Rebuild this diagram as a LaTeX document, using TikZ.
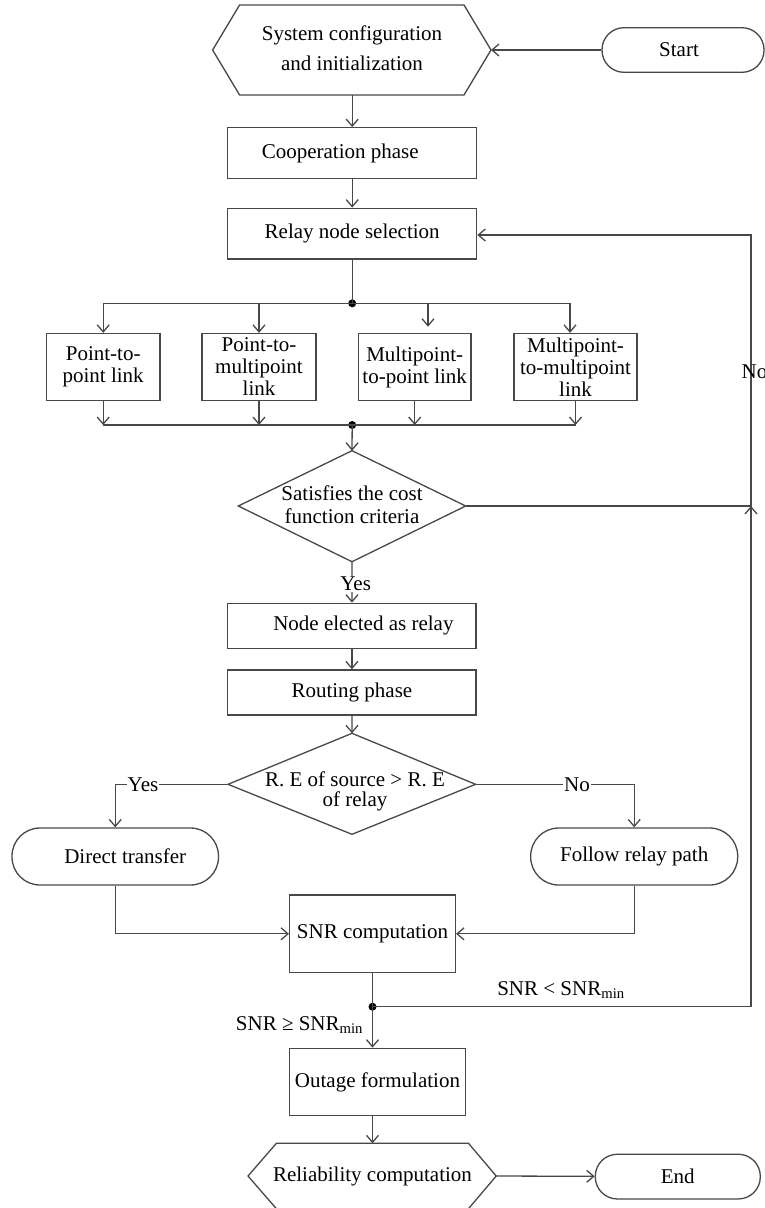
\documentclass[tikz,border=0pt]{standalone}
\usepackage{fontspec}
\setmainfont{Liberation Serif}
\usetikzlibrary{arrows.meta}
\definecolor{lc}{RGB}{72,72,72}
\begin{document}
\begin{tikzpicture}[x=1pt,y=-1pt,line width=1.3pt,
  every node/.style={font=\fontsize{21}{22}\selectfont,text=black},
  box/.style={draw=lc,rectangle,inner sep=0pt,align=center},
  pill/.style={draw=lc,rounded corners=22pt,inner sep=0pt,align=center},
  conn/.style={draw=lc,-{Straight Barb[length=7pt,width=12pt]}},
  plain/.style={draw=lc},
  dot/.style={circle,fill=black,inner sep=0pt,minimum size=8pt},
  lbl/.style={fill=white,inner sep=1pt}]
\useasboundingbox (0,0) rectangle (765,1208);

% ---- top hexagon and start
\node[align=center,font=\fontsize{21}{30}\selectfont] (sys) at (352,48) {System configuration\\and initialization};
\path[plain] (212.6,50) coordinate (sysL) -- (239.6,5) -- (464,5) -- (491,50) coordinate (sysR) -- (464,95) -- (239.6,95) -- cycle;
\coordinate (sysB) at (352.2,95);
\node[pill,minimum width=162pt,minimum height=44.6pt] (start) at (683,50) {\hspace*{-8pt}Start};

% ---- boxes
\node[box,minimum width=249pt,minimum height=50.6pt] (coop) at (352.2,153) {Cooperation phase\hspace*{24pt}};
\node[box,minimum width=249pt,minimum height=50.7pt] (relay) at (352.2,233.6) {Relay node selection};

\node[box,minimum width=113.7pt,minimum height=67pt] (l1) at (103.2,367) {Point-to-\\point link};
\node[box,minimum width=114pt,minimum height=67pt] (l2) at (259,367) {Point-to-\\multipoint\\link};
\node[box,minimum width=112.5pt,minimum height=67pt] (l3) at (414.7,367) {Multipoint-\\to-point link};
\node[box,minimum width=123pt,minimum height=67pt] (l4) at (575.5,367) {Multipoint-\\to-multipoint\\link};

% ---- diamond 1
\node[align=center,font=\fontsize{21}{23}\selectfont] (d1) at (352,505) {Satisfies the cost\\function criteria};
\path[plain] (352,450.7) coordinate (d1T) -- (465.7,506) coordinate (d1R) -- (352,561.7) coordinate (d1B) -- (238.3,506) coordinate (d1L) -- cycle;

\node[box,minimum width=248.3pt,minimum height=45pt] (elect) at (351.9,625.8) {\hspace*{23pt}Node elected as relay};
\node[box,minimum width=248.3pt,minimum height=45pt] (routing) at (351.9,692.5) {Routing phase};

% ---- diamond 2
\node[align=center,font=\fontsize{21}{20}\selectfont] (d2) at (355,791) {R.~E of source > R.~E\\of relay};
\path[plain] (352,733.3) coordinate (d2T) -- (475.6,784.3) coordinate (d2R) -- (352,834.3) coordinate (d2B) -- (228,784.3) coordinate (d2L) -- cycle;

\node[pill,rounded corners=28pt,minimum width=206.5pt,minimum height=57pt] (direct) at (115.25,856.5) {\hspace*{20pt}Direct transfer};
\node[pill,rounded corners=28pt,minimum width=207pt,minimum height=57pt] (follow) at (634.2,856.5) {Follow relay path};

\node[box,minimum width=165.8pt,minimum height=77.7pt] (snr) at (372.5,933.8) {SNR computation};
\node[box,minimum width=176.2pt,minimum height=67.4pt] (outage) at (377.5,1082) {Outage formulation};

% ---- bottom hexagon and end
\node (rel) at (372.5,1176) {Reliability computation};
\path[plain] (248,1176) coordinate (h2L) -- (276.4,1143.3) -- (468.5,1143.3) -- (496.2,1176) coordinate (h2R) -- (468.5,1208.7) -- (276.4,1208.7) -- cycle;
\coordinate (h2T) at (372.5,1143.3);
\node[pill,minimum width=165pt,minimum height=44.7pt] (end) at (677.8,1176.6) {End};

% ---- connectors top
\draw[conn] (start) -- (sysR);
\draw[conn] (sysB) -- (coop);
\draw[conn] (coop) -- (relay);
\node[dot] (j1) at (352.2,303.3) {};
\draw[plain] (relay) -- (j1.center);
\coordinate (h1L) at (103.2,303.3);
\coordinate (h1R) at (570,303.3);
\coordinate (a3) at (428,303.3);
\draw[plain] (h1L) -- (h1R);
\draw[conn] (h1L) -- (l1);
\draw[conn] (l2.north |- h1L) -- (l2);
\draw[conn] (a3) -- (428,326.7);
\draw[conn] (h1R) -- (h1R |- l4.north);

% ---- join below link boxes
\node[dot] (j2) at (352.2,425) {};
\draw[plain] (l1.south |- j2) -- (l4.south |- j2);
\draw[conn] (l1) -- (l1.south |- j2);
\draw[conn] (l2) -- (l2.south |- j2);
\draw[conn] (l3) -- (l3.south |- j2);
\draw[conn] (l4) -- (l4.south |- j2);
\draw[conn] (j2.center) -- (d1T);

% ---- feedback (No)
\coordinate (fbA) at (751,506);
\coordinate (fbB) at (751,235);
\draw[conn] (d1R) -- (fbA) -- (fbB) -- (fbB -| relay.east);
\node[anchor=west,inner sep=0pt] (no1) at (741,372) {No};

% ---- yes path
\draw[conn] (d1B) -- (elect);
\node[lbl] (yes1) at (355.7,584) {Yes};
\draw[conn] (elect) -- (routing);
\draw[conn] (routing) -- (d2T);

\coordinate (yesC) at (115.25,784.3);
\coordinate (noC) at (634.2,784.3);
\draw[conn] (d2L) -- (yesC) -- (direct);
\draw[conn] (d2R) -- (noC) -- (follow);
\node[lbl] (yes2) at (143,784.3) {Yes};
\node[lbl] (no2) at (577,784.3) {No};

\draw[conn] (direct) -- (direct |- snr) -- (snr);
\draw[conn] (follow) -- (follow |- snr) -- (snr);

% ---- SNR outcome
\node[dot] (j3) at (372.5,1006.7) {};
\draw[plain] (snr.south -| j3) -- (j3.center);
\coordinate (fbC) at (751,1006.7);
\draw[conn] (j3.center) -- (fbC) -- (fbA);
\draw[conn] (j3.center) -- (j3 |- outage.north);
\node (lt) at (561,990) {SNR < SNR\textsubscript{min}};
\node[anchor=east] (ge) at (367,1025) {SNR ≥ SNR\textsubscript{min}};

\draw[conn] (h2T |- outage.south) -- (h2T);
\draw[conn] (h2R) -- (end);
\end{tikzpicture}
\end{document}
